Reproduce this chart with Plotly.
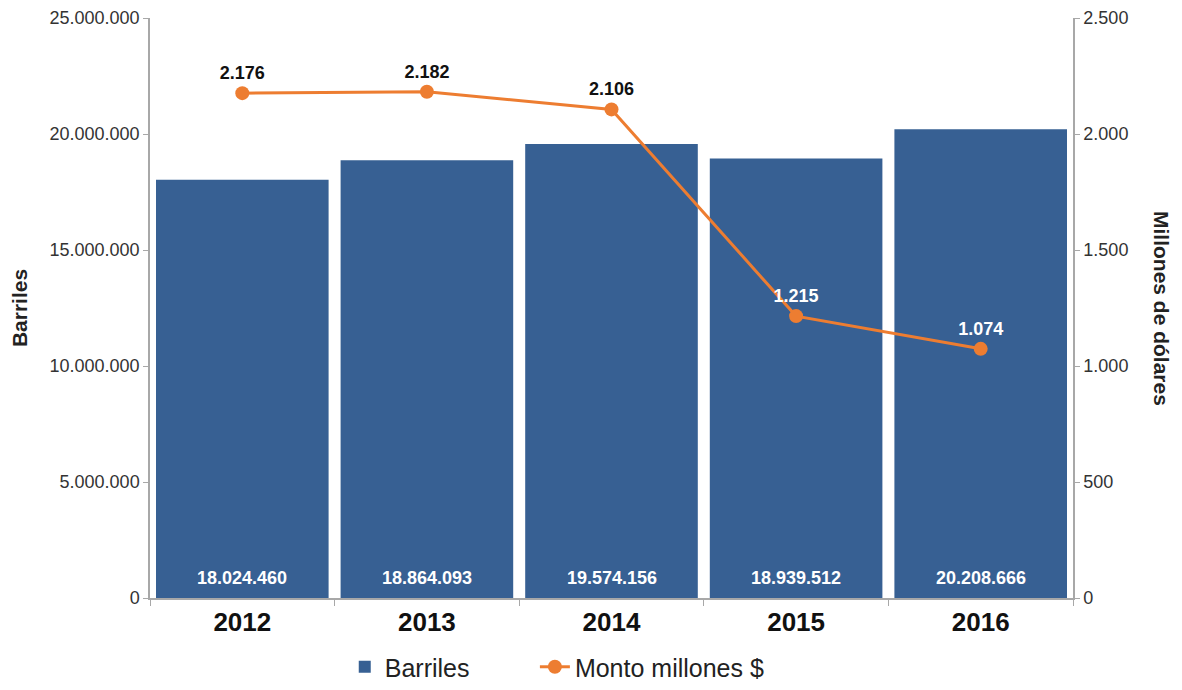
import plotly.graph_objects as go

years = ["2012", "2013", "2014", "2015", "2016"]
barriles = [18024460, 18864093, 19574156, 18939512, 20208666]
monto = [2176, 2182, 2106, 1215, 1074]
monto_label_colors = ["#111111", "#111111", "#111111", "#ffffff", "#ffffff"]

def fmt(v):
    return f"{v:,}".replace(",", ".")

BAR = "#376093"
ORANGE = "#ed7d31"
AX = "#a8a8a8"
FONT = "Liberation Sans, Arial, sans-serif"

fig = go.Figure()
fig.add_trace(go.Bar(
    x=years, y=barriles, name="Barriles", legend="legend",
    marker=dict(color=BAR, line=dict(width=0)),
))
fig.add_trace(go.Scatter(
    x=years, y=monto, name="Monto millones $", yaxis="y2", legend="legend2",
    mode="lines+markers+text",
    line=dict(color=ORANGE, width=3),
    marker=dict(color=ORANGE, size=14),
    text=[fmt(v) for v in monto], textposition="top center",
    textfont=dict(color=monto_label_colors, size=18, family=FONT, weight="bold"),
))
for i, v in enumerate(barriles):
    fig.add_annotation(x=i, y=0, xref="x", yref="y", text=f"<b>{fmt(v)}</b>", showarrow=False,
                       yanchor="middle", yshift=20,
                       font=dict(color="white", size=18, family=FONT))

legend_common = dict(orientation="h", xanchor="left", y=-0.119, yanchor="middle",
                     font=dict(size=25, family=FONT, color="#222222"),
                     bgcolor="rgba(0,0,0,0)")

fig.update_layout(
    width=1182, height=690,
    margin=dict(l=142, r=117, t=10, b=100, autoexpand=False),
    plot_bgcolor="white", paper_bgcolor="white",
    separators=",.",
    bargap=0.065,
    font=dict(family=FONT, color="#222222"),
    showlegend=True,
    legend=dict(x=0.211, **legend_common),
    legend2=dict(x=0.417, **legend_common),
    xaxis=dict(type="category", categoryorder="array", categoryarray=years,
               showline=True, linecolor=AX, linewidth=1.5,
               ticks="outside", tickson="boundaries", ticklen=6, tickcolor=AX,
               tickfont=dict(size=26, family=FONT, color="#111111", weight="bold"),
               showgrid=False, automargin=False),
    yaxis=dict(range=[0, 25000000], dtick=5000000, tickformat=",d",
               showline=True, linecolor=AX, linewidth=1.5, ticks="outside",
               ticklen=5, tickcolor=AX, showgrid=False, zeroline=False, automargin=False,
               tickfont=dict(size=18, family=FONT, color="#333333"),
               title=dict(text="<b>Barriles</b>", font=dict(size=21, family=FONT, color="#222222"),
                          standoff=17)),
    yaxis2=dict(range=[0, 2500], dtick=500, tickformat=",d", overlaying="y", side="right",
                showline=True, linecolor=AX, linewidth=1.5, ticks="outside",
                ticklen=5, tickcolor=AX, showgrid=False, zeroline=False, automargin=False,
                tickfont=dict(size=18, family=FONT, color="#333333")),
)
fig.add_annotation(text="<b>Millones de dólares</b>", xref="paper", yref="paper",
                   x=1.0, y=0.5, xanchor="center", xshift=89, showarrow=False, textangle=90,
                   font=dict(size=21, family=FONT, color="#222222"))

fig.write_html("out.html")
